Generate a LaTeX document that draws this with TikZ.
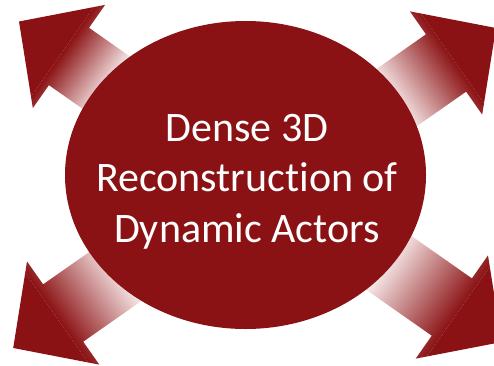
\documentclass[tikz,border=0pt]{standalone}
\usepackage{fontspec}
\setmainfont{Carlito}[Ligatures=NoCommon]
\usetikzlibrary{shapes.geometric}
\definecolor{actorred}{RGB}{139,18,20}
\definecolor{actorpale}{RGB}{250,238,238}

% One outward arrow: tip at (#1,#2), axis angle #3 pointing back towards the hub,
% shaft length #4; solid head, shaft fading to pale under the hub.
\newcommand{\spokearrow}[4]{%
  \begin{scope}[transform canvas={shift={(#1,#2)},rotate=#3}]
    \clip (0,0) -- (61,63) -- (61,35) -- (#4,35) -- (#4,-35) -- (61,-35) -- (61,-63) -- cycle;
    \fill[actorred] (-2,-70) rectangle (53,70);
    \shade[left color=actorred, right color=actorpale] (53,-70) rectangle (#4+1,70);
  \end{scope}}

\begin{document}
\begin{tikzpicture}[x=1pt,y=1pt]
  \useasboundingbox (0,0) rectangle (494,365);

  \spokearrow{19}{343.5}{-35}{112}
  \spokearrow{496}{337}{215}{126}
  \spokearrow{13.2}{17}{35}{133}
  \spokearrow{501.8}{23}{145}{142}

  \node[ellipse, fill=actorred, minimum width=361pt, minimum height=308pt, inner sep=0pt] (hub) at (245.5,190) {};
  % the base anchor of this multi-line node sits on the last line
  \node[text=white, font=\fontsize{42}{50.5}\selectfont, align=center, anchor=base, inner sep=0pt]
    (title) at (247,123) {Dense 3D\\Reconstruction of\\Dynamic Actors};
\end{tikzpicture}
\end{document}
